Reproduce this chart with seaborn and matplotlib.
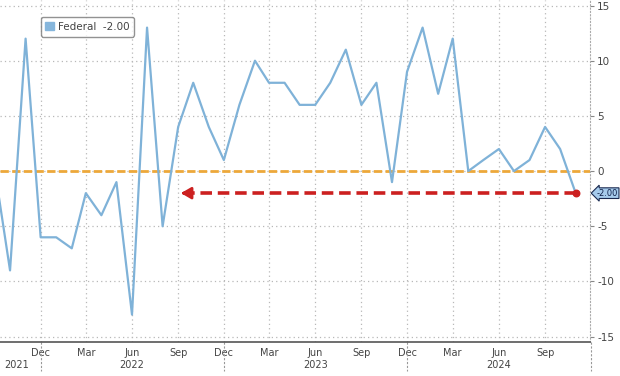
import pandas as pd
import matplotlib
matplotlib.use('Agg')
import matplotlib.pyplot as plt
import matplotlib.dates as mdates
import matplotlib.transforms as mtransforms
from matplotlib.patches import Patch
import seaborn as sns

# monthly Federal series, Sep 2021 .. Nov 2024
start_month = '2021-09-01'
values = [0, -9, 12, -6,
          -6, -7, -2, -4, -1, -13, 13, -5, 4, 8, 4, 1,
          6, 10, 8, 8, 6, 6, 8, 11, 6, 8, -1, 9,
          13, 7, 12, 0, 1, 2, 0, 1, 4, 2, -2]
series_name = 'Federal'
arrow_target = '2022-09-01'
y_ticks = [-15, -10, -5, 0, 5, 10, 15]
year_labels = ['2021', '2022', '2023', '2024']
year_label_dates = ['2021-10-15', '2022-06-01', '2023-06-01', '2024-06-01']
year_breaks = ['2021-12-01', '2022-12-01', '2023-12-01', '2024-12-01']

dates = pd.date_range(start_month, periods=len(values), freq='MS')
df = pd.DataFrame({'date': dates, 'value': values})

sns.set_style('white')
plt.rcParams['font.family'] = ['DejaVu Sans']

line_color = '#7fb2d8'
text_color = '#444444'
grid_color = '#b8b8b8'

fig = plt.figure(figsize=(6.2, 3.76), dpi=100)
ax = fig.add_axes([0.0, 0.09, 0.952, 0.91])

# zero line
ax.axhline(0, color='#eda83a', lw=2.0, ls=(0, (3, 1.2)), zorder=2)

sns.lineplot(data=df, x='date', y='value', color=line_color, lw=1.6, ax=ax, zorder=3)

# red dashed arrow from latest value back to target month
last_date = df['date'].iloc[-1]
last_val = df['value'].iloc[-1]
target = pd.Timestamp(arrow_target)
ax.plot([last_date, target + pd.Timedelta(days=12)], [last_val, last_val],
        color='#cc2020', lw=2.6, ls=(0, (3.2, 1.6)), zorder=4)
ax.annotate('', xy=(target, last_val), xytext=(target + pd.Timedelta(days=20), last_val),
            arrowprops=dict(arrowstyle='-|>,head_length=0.6,head_width=0.35',
                            color='#cc2020', lw=2.0), zorder=4)
ax.scatter([last_date], [last_val], color='#cc2020', s=22, zorder=5)

ax.set_xlim(pd.Timestamp('2021-09-11'), pd.Timestamp('2024-11-30'))
ax.set_ylim(-15.5, 15.5)

# axes styling
ax.yaxis.tick_right()
ax.set_yticks(y_ticks)
ax.set_yticklabels([str(v) for v in y_ticks])
ax.xaxis.set_major_locator(mdates.MonthLocator(bymonth=[3, 6, 9, 12]))
ax.xaxis.set_major_formatter(mdates.DateFormatter('%b'))
ax.xaxis.set_minor_locator(mdates.MonthLocator())
ax.tick_params(axis='x', which='both', length=2.5, color='#666666', labelsize=7,
               labelcolor=text_color, pad=1.5)
ax.tick_params(axis='y', length=3, color='#888888', labelsize=7.5,
               labelcolor=text_color, pad=2)
ax.grid(True, which='major', color=grid_color, ls=(0, (1, 2.5)), lw=0.9)
ax.set_xlabel('')
ax.set_ylabel('')
for side in ['top', 'left']:
    ax.spines[side].set_visible(False)
ax.spines['bottom'].set_color('#555555')
ax.spines['bottom'].set_linewidth(1.2)
ax.spines['right'].set_color('#aaaaaa')
ax.spines['right'].set_linestyle((0, (1, 2)))

# year labels and separators
trans = mtransforms.blended_transform_factory(ax.transData, ax.transAxes)
for lbl, d in zip(year_labels, year_label_dates):
    ax.text(pd.Timestamp(d), -0.068, lbl, transform=trans, ha='center', va='center',
            fontsize=7, color=text_color)
for d in year_breaks:
    ax.plot([pd.Timestamp(d)] * 2, [0, -0.085], transform=trans, clip_on=False,
            color='#999999', lw=0.8, ls=(0, (2, 1.5)))

# legend
handle = Patch(facecolor='#86b6dc', edgecolor='#86b6dc')
leg = ax.legend([handle], [f'{series_name}  {last_val:.2f}'], loc='upper left',
                bbox_to_anchor=(0.06, 0.965), fontsize=7.5, frameon=True,
                handlelength=0.8, handleheight=0.8, handletextpad=0.4,
                borderpad=0.45, fancybox=True)
leg.get_frame().set_edgecolor('#777777')
leg.get_frame().set_linewidth(1.0)
for t in leg.get_texts():
    t.set_color(text_color)

# last value tag on right axis
ytrans = mtransforms.blended_transform_factory(fig.transFigure, ax.transData)
ax.text(0.997, last_val, f'{last_val:.2f}', transform=ytrans,
        ha='right', va='center', fontsize=6, color='#0f1f48', clip_on=False,
        bbox=dict(boxstyle='larrow,pad=0.1', facecolor='#a6cbec', edgecolor='#1a2a50', lw=0.8))

fig.savefig('out.png', dpi=100)
